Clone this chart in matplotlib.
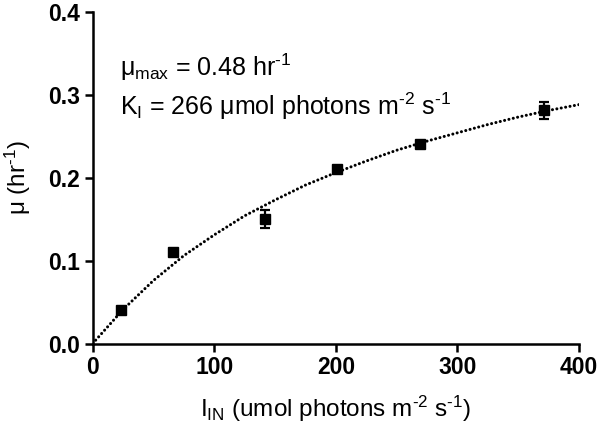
import numpy as np
import matplotlib
matplotlib.use("Agg")
import matplotlib.pyplot as plt

plt.rcParams['font.family'] = ['Liberation Sans', 'DejaVu Sans']
plt.rcParams['mathtext.fontset'] = 'custom'
plt.rcParams['mathtext.rm'] = 'Liberation Sans'
plt.rcParams['mathtext.default'] = 'regular'

# measured growth rates
light = [23, 66, 142, 201, 269, 371]
mu = [0.040, 0.110, 0.150, 0.210, 0.240, 0.281]
mu_err = [0.003, 0.003, 0.011, 0.003, 0.003, 0.010]

# fitted saturation curve
fit_light = [0, 25, 50, 75, 100, 125, 150, 175, 200, 225, 250, 275, 300, 325, 350, 375, 400]
fit_mu = [0.0, 0.041, 0.076, 0.106, 0.131, 0.154, 0.173, 0.191, 0.206,
          0.220, 0.233, 0.244, 0.254, 0.264, 0.273, 0.281, 0.288]

HY = '\u2010'  # plain hyphen in superscripts, like the original

fig = plt.figure(figsize=(6, 4.34), dpi=100)
ax = fig.add_axes([0.1545, 0.2085, 0.8105, 0.7645])

ax.plot(fit_light, fit_mu, color='black', lw=2.2,
        linestyle=(0, (0.01, 1.45)), dash_capstyle='round')
ax.errorbar(light, mu, yerr=mu_err, fmt='s', color='black', ms=7,
            capsize=3.5, elinewidth=1.6, capthick=1.6)

ax.set_xlim(0, 400)
ax.set_ylim(0, 0.4)
ax.set_xticks([0, 100, 200, 300, 400])
ax.set_yticks([0.0, 0.1, 0.2, 0.3, 0.4])
ax.yaxis.set_major_formatter(matplotlib.ticker.FormatStrFormatter('%.1f'))
for s in ['top', 'right']:
    ax.spines[s].set_visible(False)
for s in ['left', 'bottom']:
    ax.spines[s].set_linewidth(1.8)
ax.tick_params(width=1.8, length=6, labelsize=16.5, pad=3)
for lbl in ax.get_xticklabels() + ax.get_yticklabels():
    lbl.set_fontweight('bold')

ax.set_xlabel('I$_{IN}$ (umol photons m$^{' + HY + '2}$ s$^{' + HY + '1}$)', fontsize=17.5, labelpad=11)
ax.set_ylabel('μ (hr$^{' + HY + '1}$)', fontsize=17.5)
ax.yaxis.set_label_coords(-0.122, 0.5)

ax.text(0.056, 0.806, 'μ$_{max}$ = 0.48 hr$^{' + HY + '1}$', transform=ax.transAxes, fontsize=18)
ax.text(0.056, 0.689, 'K$_{I}$ = 266 μmol photons m$^{' + HY + '2}$ s$^{' + HY + '1}$',
        transform=ax.transAxes, fontsize=18)

fig.savefig('out.png', dpi=100)
